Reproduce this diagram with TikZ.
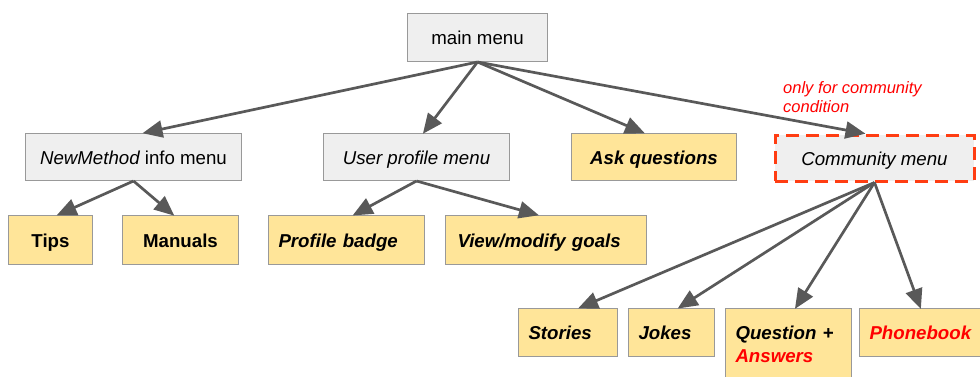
\documentclass[tikz,border=0pt]{standalone}
\usepackage{fontspec}
\setmainfont{Liberation Sans}
\usetikzlibrary{arrows.meta}
\definecolor{MenuFill}{HTML}{EFEFEF}
\definecolor{LeafFill}{HTML}{FFE599}
\definecolor{BoxLine}{HTML}{999999}
\definecolor{ArrowGray}{HTML}{595959}
\definecolor{CondRed}{HTML}{FF3D12}
\definecolor{TextRed}{HTML}{FF0000}

\tikzset{
  menu/.style={draw=BoxLine, fill=MenuFill, line width=1pt, anchor=north west,
    inner sep=0pt, text height=14pt, text depth=0pt,
    font=\fontsize{18.67}{23}\selectfont},
  leaf/.style={menu, fill=LeafFill, inner xsep=10pt,
    font=\fontsize{18.67}{23}\selectfont\bfseries\itshape},
  link/.style={ArrowGray, line width=2.7pt,
    -{Triangle[length=20pt,width=17pt]}, shorten >=-1pt},
}

\begin{document}
\begin{tikzpicture}[x=1pt,y=-1pt]
      \useasboundingbox (0,0) rectangle (980,376);
      % top level
      \node[menu, minimum width=140pt, minimum height=48pt] (main) at (407,13) {main menu};
      % second level
      \node[menu, minimum width=216pt, minimum height=47pt] (newm) at (25,133)
        {\itshape NewMethod\upshape{} info menu};
      \node[menu, minimum width=186pt, minimum height=47pt] (user) at (323,133)
        {\itshape User profile menu};
      \node[leaf, minimum width=165pt, minimum height=47pt] (ask) at (571,133)
        {Ask questions};
      \node[menu, draw=CondRed, line width=3pt, dash pattern=on 13pt off 7pt,
        minimum width=199pt, minimum height=46pt] (comm) at (773.5,133.5)
        {\itshape Community menu};
      \node[anchor=north west, inner sep=0pt, text=TextRed, align=left,
        font=\fontsize{16.5}{19}\selectfont\itshape] (cond) at (783,81)
        {only for community\\condition};
      % leaves
      \node[leaf, minimum width=84pt, minimum height=49pt] (tips) at (8,215)
        {\upshape Tips};
      \node[leaf, minimum width=116pt, minimum height=49pt] (manuals) at (122,215)
        {\upshape Manuals};
      \node[leaf, text width=136pt, align=left, minimum height=49pt] (badge) at (268,215)
        {Profile badge};
      \node[leaf, text width=181pt, align=left, minimum height=49pt] (goals) at (445,215)
        {\hspace*{2pt}View/modify goals};
      \node[leaf, text width=79pt, align=left, minimum height=48pt] (stories) at (518,308)
        {Stories};
      \node[leaf, text width=66pt, align=left, minimum height=48pt] (jokes) at (628,308)
        {Jokes};
      \node[leaf, text width=106pt, align=left, minimum height=70pt,
        text height=14pt, text depth=23pt] (qa) at (725,308)
        {Question +\\\textcolor{TextRed}{Answers}};
      \node[leaf, text width=106pt, align=left, minimum height=48pt] (phone) at (859,308)
        {\textcolor{TextRed}{Phonebook}};
      % connectors
      \draw[link] (main.south) -- ([xshift=10pt]newm.north);
      \draw[link] (main.south) -- ([xshift=7pt]user.north);
      \draw[link] (main.south) -- ([xshift=-10pt]ask.north);
      \draw[link] (main.south) -- ([xshift=-10pt]comm.north);
      \draw[link] (newm.south) -- ([xshift=7pt]tips.north);
      \draw[link] (newm.south) -- ([xshift=-7pt]manuals.north);
      \draw[link] (user.south) -- ([xshift=7pt]badge.north);
      \draw[link] (user.south) -- ([xshift=-8pt]goals.north);
      \draw[link] (comm.south) -- ([xshift=11pt]stories.north);
      \draw[link] (comm.south) -- ([xshift=7pt]jokes.north);
      \draw[link] (comm.south) -- ([xshift=7pt]qa.north);
      \draw[link] (comm.south) -- ([xshift=-2pt]phone.north);
\end{tikzpicture}
\end{document}
